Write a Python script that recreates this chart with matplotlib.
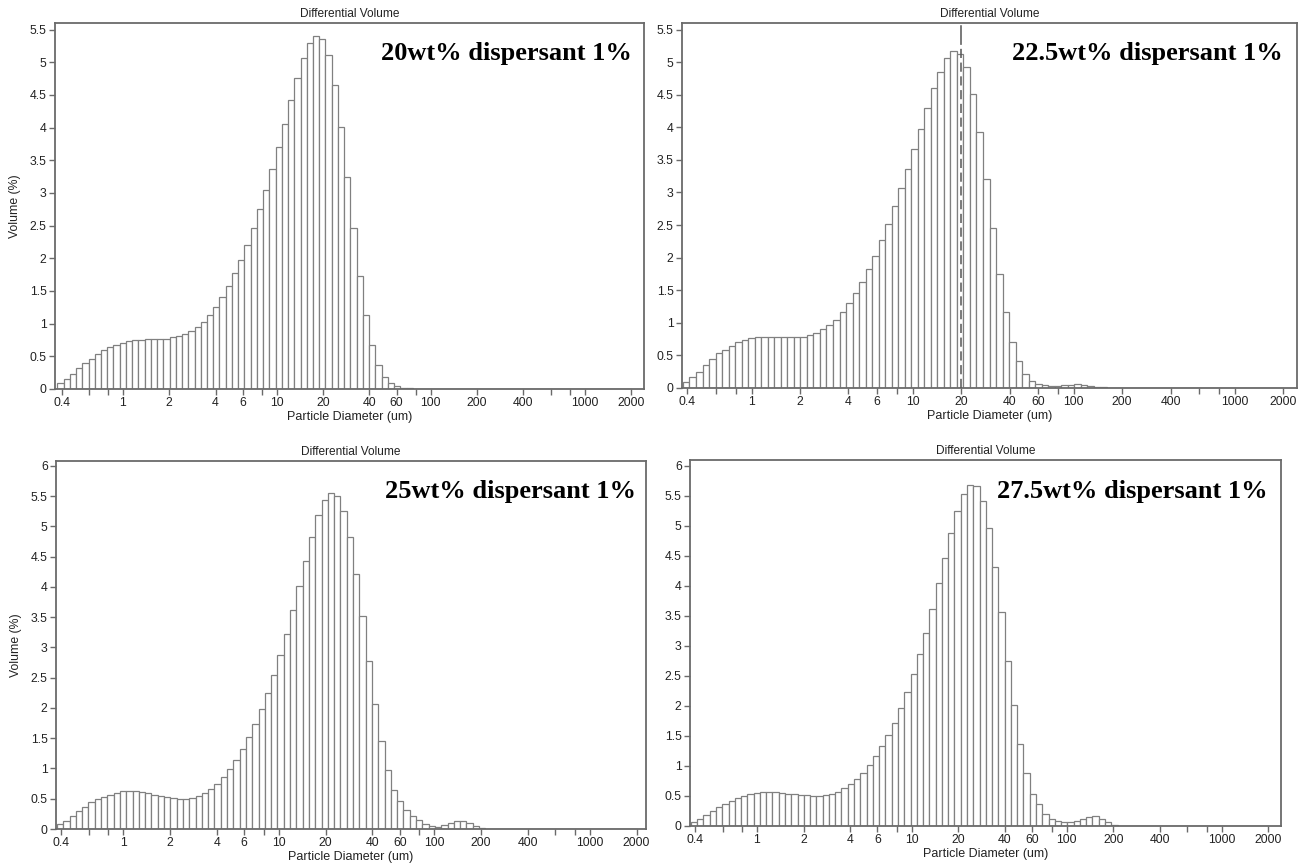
import numpy as np
import matplotlib
matplotlib.use("Agg")
import matplotlib.pyplot as plt
from matplotlib.ticker import FixedLocator, FixedFormatter, NullLocator

# ---------------- data ----------------
# Instrument channels (LS 13 320 style): 92 log-spaced channels 0.375 - 2000 um
channel_low = 0.375
channel_high = 2000.0
n_channels = 92

vol_20 = [0.09, 0.15, 0.23, 0.32, 0.40, 0.46, 0.53, 0.60, 0.64, 0.67,
          0.71, 0.73, 0.75, 0.755, 0.76, 0.76, 0.765, 0.77, 0.79, 0.81,
          0.84, 0.89, 0.95, 1.03, 1.13, 1.25, 1.40, 1.57, 1.77, 1.98,
          2.21, 2.47, 2.75, 3.05, 3.37, 3.71, 4.06, 4.42, 4.76, 5.06,
          5.29, 5.40, 5.35, 5.11, 4.65, 4.01, 3.25, 2.47, 1.73, 1.13,
          0.67, 0.37, 0.19, 0.09, 0.04, 0.02, 0.01]

vol_225 = [0.09, 0.17, 0.25, 0.36, 0.45, 0.53, 0.59, 0.65, 0.70, 0.73,
           0.76, 0.775, 0.785, 0.785, 0.785, 0.78, 0.78, 0.78, 0.79, 0.81,
           0.85, 0.90, 0.96, 1.05, 1.16, 1.30, 1.45, 1.63, 1.82, 2.03,
           2.27, 2.52, 2.79, 3.07, 3.36, 3.66, 3.98, 4.29, 4.60, 4.85,
           5.06, 5.17, 5.13, 4.92, 4.51, 3.92, 3.21, 2.46, 1.75, 1.16,
           0.71, 0.42, 0.22, 0.11, 0.06, 0.04, 0.03, 0.03, 0.04, 0.05,
           0.06, 0.05, 0.03, 0.02, 0.01]

vol_25 = [0.08, 0.14, 0.21, 0.30, 0.37, 0.44, 0.49, 0.53, 0.57, 0.60,
          0.62, 0.62, 0.62, 0.61, 0.59, 0.57, 0.55, 0.53, 0.51, 0.50,
          0.50, 0.51, 0.55, 0.59, 0.66, 0.75, 0.86, 0.99, 1.14, 1.32,
          1.52, 1.74, 1.98, 2.24, 2.54, 2.87, 3.23, 3.62, 4.02, 4.43,
          4.83, 5.18, 5.44, 5.55, 5.50, 5.25, 4.83, 4.22, 3.52, 2.77,
          2.06, 1.45, 0.98, 0.64, 0.47, 0.31, 0.22, 0.15, 0.09, 0.05,
          0.04, 0.06, 0.10, 0.13, 0.14, 0.10, 0.05, 0.01]

vol_275 = [0.07, 0.12, 0.18, 0.25, 0.31, 0.37, 0.42, 0.46, 0.50, 0.53,
           0.55, 0.56, 0.56, 0.56, 0.55, 0.54, 0.53, 0.52, 0.51, 0.50,
           0.50, 0.51, 0.53, 0.57, 0.63, 0.70, 0.78, 0.88, 1.02, 1.17,
           1.33, 1.52, 1.72, 1.97, 2.24, 2.53, 2.86, 3.22, 3.61, 4.05,
           4.47, 4.89, 5.25, 5.54, 5.68, 5.66, 5.41, 4.96, 4.32, 3.56,
           2.75, 2.01, 1.37, 0.89, 0.53, 0.36, 0.20, 0.12, 0.08, 0.06,
           0.06, 0.09, 0.12, 0.15, 0.16, 0.12, 0.07, 0.02]

labels = ["20wt% dispersant 1%", "22.5wt% dispersant 1%",
          "25wt% dispersant 1%", "27.5wt% dispersant 1%"]

x_ticks = [0.4, 0.6, 0.8, 1, 2, 4, 6, 8, 10, 20, 40, 60, 80, 100,
           200, 400, 600, 800, 1000, 2000]
x_tick_labels = ["0.4", "", "", "1", "2", "4", "6", "", "10", "20", "40",
                 "60", "", "100", "200", "400", "", "", "1000", "2000"]

y_ticks_a = [0, 0.5, 1, 1.5, 2, 2.5, 3, 3.5, 4, 4.5, 5, 5.5]
y_ticks_b = [0, 0.5, 1, 1.5, 2, 2.5, 3, 3.5, 4, 4.5, 5, 5.5, 6]

median_marker_225 = 20.0

# ---------------- figure ----------------
W, H = 1305, 868
fig = plt.figure(figsize=(W / 100, H / 100), dpi=100)

SANS = ["Liberation Sans", "DejaVu Sans"]
SERIF = ["Liberation Serif", "DejaVu Serif"]

edges = np.geomspace(channel_low, channel_high, n_channels + 1)
widths = np.diff(edges)

def pad(v):
    return list(v) + [0.0] * (n_channels - len(v))

def px_axes(left, right, top, bottom):
    return fig.add_axes([left / W, 1 - bottom / H, (right - left) / W, (bottom - top) / H])

panels = [
    dict(box=(55, 644, 23, 389), data=vol_20, yt=y_ticks_a, ylim=5.6, xlim=(0.362, 2430),
         ylabel=True, text_xy=(632, 60)),
    dict(box=(682, 1297, 23, 388), data=vol_225, yt=y_ticks_a, ylim=5.6, xlim=(0.37, 2440),
         ylabel=False, text_xy=(1283, 60)),
    dict(box=(56, 646, 461, 829), data=vol_25, yt=y_ticks_b, ylim=6.08, xlim=(0.37, 2300),
         ylabel=True, text_xy=(636, 498)),
    dict(box=(690, 1281, 460, 826), data=vol_275, yt=y_ticks_b, ylim=6.1, xlim=(0.37, 2420),
         ylabel=False, text_xy=(1268, 498)),
]

edge_col = "#808080"
spine_col = "#6a6a6a"
text_col = "#222222"

for i, p in enumerate(panels):
    ax = px_axes(*p["box"])
    ax.bar(edges[:-1], pad(p["data"]), width=widths, align="edge",
           facecolor="white", edgecolor=edge_col, linewidth=0.9, zorder=2)
    ax.set_xscale("log")
    ax.set_xlim(*p["xlim"])
    ax.set_ylim(0, p["ylim"])
    ax.xaxis.set_major_locator(FixedLocator(x_ticks))
    ax.xaxis.set_major_formatter(FixedFormatter(x_tick_labels))
    ax.xaxis.set_minor_locator(NullLocator())
    ax.yaxis.set_major_locator(FixedLocator(p["yt"]))
    ax.yaxis.set_major_formatter(FixedFormatter([f"{t:g}" for t in p["yt"]]))
    ax.tick_params(axis="both", direction="out", length=4, width=1.0,
                   color=spine_col, labelsize=8.8, labelcolor=text_col, pad=2)
    for lab in ax.get_xticklabels() + ax.get_yticklabels():
        lab.set_family(SANS)
    for s in ax.spines.values():
        s.set_color(spine_col)
        s.set_linewidth(1.3)
    ax.set_title("Differential Volume", fontsize=8.6, family=SANS, color=text_col, pad=4)
    ax.set_xlabel("Particle Diameter (um)", fontsize=9, family=SANS, color=text_col, labelpad=1)
    if p["ylabel"]:
        ax.set_ylabel("Volume (%)", fontsize=8.8, family=SANS, color=text_col, labelpad=6)
    tx, ty = p["text_xy"]
    fig.text(tx / W, 1 - ty / H, labels[i], ha="right", va="baseline",
             fontsize=19, fontweight="bold", family=SERIF, color="black")
    if i == 1:
        ax.plot([median_marker_225, median_marker_225], [0, 5.28], color="#555555",
                linewidth=1.1, linestyle=(0, (6, 3)), zorder=3)
        ax.plot([median_marker_225, median_marker_225], [5.28, 5.55], color="#555555",
                linewidth=1.1, zorder=3)

fig.savefig("out.png", dpi=100, facecolor="white")
